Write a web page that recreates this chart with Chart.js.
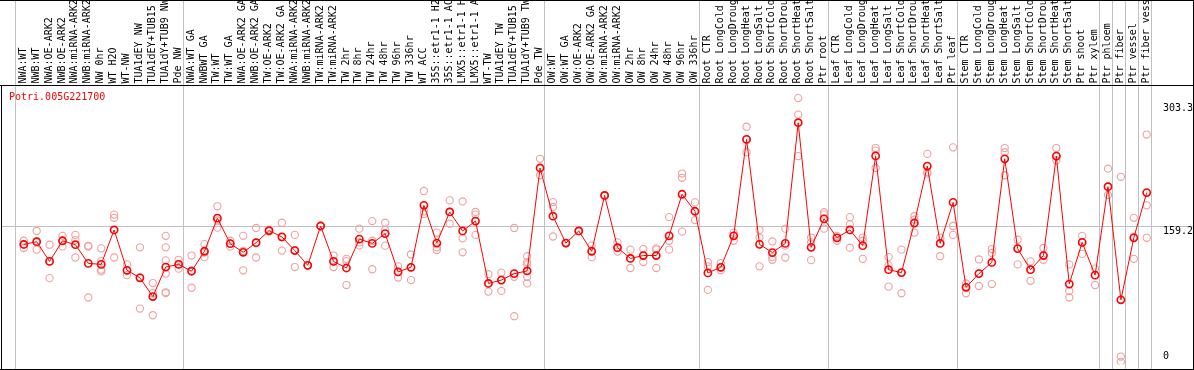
<!DOCTYPE html>
<html><head><meta charset="utf-8">
<script src="https://cdn.jsdelivr.net/npm/chart.js@4/dist/chart.umd.min.js"></script>
<style>html,body{margin:0;padding:0;background:#fff;overflow:hidden}#wrap{width:1194px;height:370px;position:relative}</style>
</head><body><div id="wrap"><canvas id="c" width="1194" height="370"></canvas></div>
<script>
const geneId = "Potri.005G221700";
const categories = [
"NWA:WT","NWB:WT","NWA:OE-ARK2","NWB:OE-ARK2","NWA:miRNA-ARK2","NWB:miRNA-ARK2","NW 0hr","WT H2O","WT-NW","TUA1dEY NW","TUA1dEY+TUB15 NW","TUA1dY+TUB9 NW","Pde NW",
"NWA:WT GA","NWBWT GA","TW:WT","TW:WT GA","NWA:OE-ARK2 GA","NWB:OE-ARK2 GA","TW:OE-ARK2","TW:OE-ARK2 GA","NWA:miRNA-ARK2 GA","NWB:miRNA-ARK2 GA","TW:miRNA-ARK2","TW:miRNA-ARK2 GA","TW 2hr","TW 8hr","TW 24hr","TW 48hr","TW 96hr","TW 336hr","WT ACC","35S::etr1-1 H2O","35S::etr1-1 ACC","LMX5::etr1-1 H2O","LMX5::etr1-1 ACC","WT-TW","TUA1dEY TW","TUA1dEY+TUB15 TW","TUA1dY+TUB9 TW","Pde TW",
"OW:WT","OW:WT GA","OW:OE-ARK2","OW:OE-ARK2 GA","OW:miRNA-ARK2","OW:miRNA-ARK2 GA","OW 2hr","OW 8hr","OW 24hr","OW 48hr","OW 96hr","OW 336hr",
"Root CTR","Root LongCold","Root LongDrought","Root LongHeat","Root LongSalt","Root ShortCold","Root ShortDrought","Root ShortHeat","Root ShortSalt","Ptr root",
"Leaf CTR","Leaf LongCold","Leaf LongDrought","Leaf LongHeat","Leaf LongSalt","Leaf ShortCold","Leaf ShortDrought","Leaf ShortHeat","Leaf ShortSalt","Ptr leaf",
"Stem CTR","Stem LongCold","Stem LongDrought","Stem LongHeat","Stem LongSalt","Stem ShortCold","Stem ShortDrought","Stem ShortHeat","Stem ShortSalt","Ptr shoot","Ptr xylem",
"Ptr phloem","Ptr fiber","Ptr vessel","Ptr fiber vessel"];
const groupStarts = [0,13,41,53,63,73,84,85,86,87];
const tickValues = [303.3, 159.2, 0];
const means = [
137.6,140.8,117.7,141.9,137.3,115.4,114.2,154.6,107.3,98.5,76.5,111.1,114.2,
106.2,129.6,168.4,138.5,128.4,139.6,153.8,146.5,130.4,113.1,159.2,117.7,110.0,143.8,138.8,150.3,105.4,110.8,183.4,139.2,175.7,153.4,165.0,91.9,95.8,103.4,106.5,227.2,
170.7,139.2,153.4,129.6,195.0,133.8,121.2,124.6,124.6,147.7,196.4,176.5,
104.2,110.8,147.7,260.7,137.7,128.1,138.8,280.3,134.2,167.6,
145.4,154.6,136.2,241.4,108.0,104.6,162.7,229.5,138.8,186.9,
87.3,103.4,116.5,238.0,132.7,108.0,124.6,241.1,91.2,140.0,101.6,
205.3,72.7,145.4,198.4];
const replicates = [
[141.9,137.6,133.4],[153.4,140.8,131.5],[137.3,117.7,98.1],[147.7,141.9,135.3],[148.8,142.6,122.3],[135.0,136.0,75.4],[133.0,118.0,108.0,106.0],[172.6,168.8,122.3],[114.2,107.3,101.6],[134.2,98.9,62.4],[92.3,80.4,54.6],[147.7,134.2,118.9,103.4,81.5,80.5],[119.6,114.2,109.2],
[124.6,107.0,86.9],[138.0,128.0,122.7],[182.3,165.7,157.3],[142.0,138.5,135.0],[147.7,130.0,107.3],[156.9,139.6,122.3],[155.0,153.0,153.0],[163.0,146.0,130.4],[148.8,131.0,111.1],[113.1,113.1,113.1],[159.2,159.2,159.2],[124.6,117.7,111.1],[120.7,118.0,90.0],[156.1,140.0,136.5],[165.0,141.9,108.5],[163.0,154.6,136.2],[111.9,105.4,98.8],[125.8,110.8,95.8],[200.3,176.5,173.4],[151.5,134.2,131.1],[189.2,175.7,161.9],[188.0,144.9,128.4],[175.7,172.6,148.8],[102.7,91.9,82.3],[104.6,95.8,83.1],[156.9,99.6,53.5],[123.8,116.9,114.2,99.6,91.9],[238.0,227.2,218.7],
[187.2,181.5,146.9],[139.2,139.2,139.2],[153.4,153.4,153.4],[136.2,129.6,122.7],[195.0,195.0,195.0],[140.0,133.8,129.2],[131.5,121.2,110.0],[132.2,124.6,116.9],[133.0,131.5,110.0],[169.6,141.9,131.5],[220.7,215.7,152.6],[186.9,176.5,166.1],
[116.9,111.9,84.3],[115.7,110.8,107.3],[151.5,147.7,141.9],[275.6,260.7,245.7],[154.6,145.7,111.9],[141.1,122.7,119.6],[156.1,136.2,122.3],[309.1,289.8,241.1],[145.7,140.0,119.2],[175.3,172.6,156.1],
[147.7,145.4,141.9],[169.6,161.1,133.8],[145.7,141.9,120.7],[250.6,247.5,227.2],[122.7,113.1,88.1],[131.5,104.6,80.4],[170.7,166.8,151.5],[243.7,222.6,220.7],[145.7,138.8,123.8],[251.4,159.2,148.8],
[91.9,87.3,80.4],[120.0,103.4,88.9],[132.2,127.6,91.2],[250.6,245.7,218.7],[143.1,132.7,114.2],[117.7,108.0,95.0],[133.4,124.6,119.6],[250.6,241.1,236.0],[114.2,83.1,75.4],[147.7,140.0,126.5],[109.2,101.6,90.0],
[226.4,205.3,195.6],[216.9,6.2,0.0],[168.8,146.7,120.7],[266.4,183.4,145.4]];

const meanPoints = means.map((v,i)=>({x:i,y:v}));
const repPoints = [];
replicates.forEach((arr,i)=>arr.forEach(v=>repPoints.push({x:i,y:v})));

const FONT = '10px "DejaVu Sans Mono", monospace';
const decor = {
  id:'decor',
  beforeDatasetsDraw(chart){
    const c = chart.ctx, xs = chart.scales.x, ys = chart.scales.y;
    c.save();
    c.fillStyle = '#c0c0c0';
    const edges = groupStarts.map(g=>g-0.66).concat([categories.length-0.66]);
    edges.forEach(e=>{ const px = Math.round(xs.getPixelForValue(e)); c.fillRect(px,0,1,370); });
    const gy = Math.round(ys.getPixelForValue(tickValues[1]));
    c.fillRect(1,gy,1192,1);
    c.restore();
  },
  afterDraw(chart){
    const c = chart.ctx, xs = chart.scales.x, ys = chart.scales.y;
    c.save();
    c.fillStyle = '#000';
    c.fillRect(0,0,1194,1);
    c.fillRect(0,85,1194,1);
    c.fillRect(0,369,1194,1);
    c.fillRect(1,85,1,285);
    c.fillRect(1193,0,1,370);
    c.font = FONT;
    c.fillStyle = '#000';
    c.textAlign = 'left';
    c.textBaseline = 'middle';
    categories.forEach((lab,i)=>{
      const px = xs.getPixelForValue(i);
      c.save();
      c.translate(px-0.5, 83.5);
      c.rotate(-Math.PI/2);
      c.fillText(lab,0,0);
      c.restore();
    });
    c.fillStyle = '#ff0000';
    c.fillText(geneId, 9, 97.5);
    c.fillStyle = '#000';
    tickValues.forEach((v,k)=>{
      const py = ys.getPixelForValue(v);
      c.textBaseline = (k===tickValues.length-1) ? 'bottom' : 'top';
      c.fillText(String(v), 1163, py + (k===tickValues.length-1 ? 0 : 0.5));
    });
    c.restore();
  }
};

new Chart(document.getElementById('c'), {
  type:'line',
  data:{datasets:[
    {type:'line', data:meanPoints, borderColor:'#ff0000', borderWidth:1, tension:0, fill:false,
     pointRadius:3.6, pointBorderWidth:1.6, pointBorderColor:'#ff0000', pointBackgroundColor:'rgba(0,0,0,0)'},
    {type:'scatter', data:repPoints, showLine:false,
     pointRadius:3.6, pointBorderWidth:1.1, pointBorderColor:'#f0a0a0', pointBackgroundColor:'rgba(0,0,0,0)'}
  ]},
  options:{
    responsive:false, animation:false, devicePixelRatio:1, events:[],
    layout:{padding:{left:1,right:1,top:86,bottom:1}},
    scales:{
      x:{type:'linear', min:-1.407, max:90.23, display:false},
      y:{type:'linear', min:-3, max:323.3, display:false}
    },
    plugins:{legend:{display:false}, tooltip:{enabled:false}, title:{display:false}}
  },
  plugins:[decor]
});
</script></body></html>
